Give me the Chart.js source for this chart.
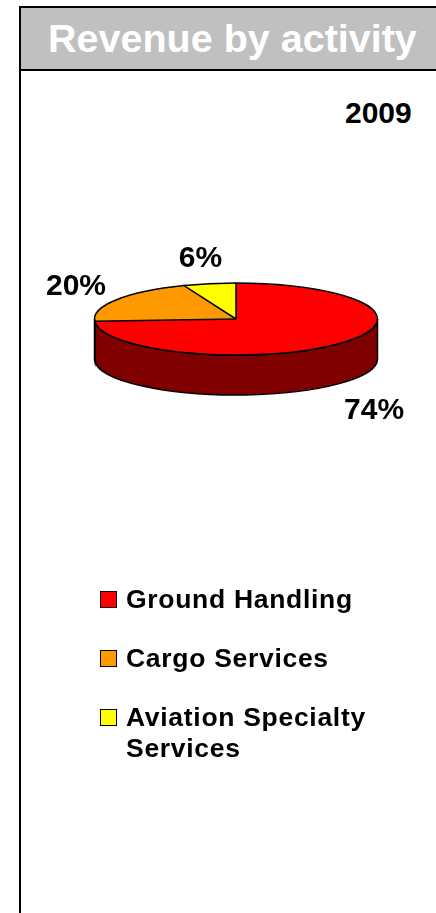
<!DOCTYPE html>
<html>
<head>
<meta charset="utf-8">
<script src="https://cdn.jsdelivr.net/npm/chart.js@4.4.1/dist/chart.umd.min.js"></script>
<style>
  html, body { margin:0; padding:0; background:#fff; width:436px; height:913px; overflow:hidden; font-family:"Liberation Sans", Arial, sans-serif; }
  #frame { position:absolute; left:19px; top:6px; width:440px; height:920px; border:2px solid #000; box-sizing:border-box; }
  #header { position:absolute; left:0; top:0; width:100%; height:61px; background:#C0C0C0; border-bottom:2px solid #000; }
  #title { position:absolute; left:27px; top:8px; color:#fff; font-weight:bold; font-size:39.5px; white-space:nowrap; }
  #year { position:absolute; left:345px; top:96px; font-weight:bold; font-size:30px; }
  #chartwrap { position:absolute; left:0; top:0; width:436px; height:913px; }
  #legend { position:absolute; left:100px; top:584px; }
  .li { display:flex; align-items:flex-start; font-weight:bold; font-size:26.5px; line-height:31px; margin-bottom:28px; letter-spacing:0.7px; }
  .sw { width:15px; height:15px; border:1px solid #000; margin-top:7px; margin-right:9px; flex:none; }
</style>
</head>
<body>
<div id="frame"><div id="header"><div id="title">Revenue by activity</div></div></div>
<div id="year">2009</div>
<div id="chartwrap"><canvas id="c" width="436" height="913"></canvas></div>
<div id="legend"></div>
<script>
const categories = ["Ground Handling", "Cargo Services", "Aviation Specialty Services"];
const legendLines = [["Ground Handling"], ["Cargo Services"], ["Aviation Specialty", "Services"]];
const shares = [74, 20, 6];
const topColors = ["#FF0000", "#FF9900", "#FFFF00"];
const sideColors = ["#800000", "#995C00", "#999900"];

const TILT = 36 / 141.5;
const DEPTH = 40;

const pie3d = {
  id: 'pie3d',
  beforeDatasetsDraw(chart) {
    const ctx = chart.ctx;
    const meta = chart.getDatasetMeta(0);
    meta.data.forEach((arc, i) => {
      const p = arc.getProps(['x','y','startAngle','endAngle','outerRadius']);
      const rx = p.outerRadius, ry = p.outerRadius * TILT;
      const segs = [[Math.max(p.startAngle, 0), Math.min(p.endAngle, Math.PI)],
                    [Math.max(p.startAngle, 2*Math.PI), Math.min(p.endAngle, 3*Math.PI)]];
      segs.forEach(([s, e]) => {
        if (e <= s) return;
        ctx.save();
        ctx.beginPath();
        ctx.ellipse(p.x, p.y, rx, ry, 0, s, e, false);
        ctx.lineTo(p.x + rx*Math.cos(e), p.y + ry*Math.sin(e) + DEPTH);
        ctx.ellipse(p.x, p.y + DEPTH, rx, ry, 0, e, s, true);
        ctx.closePath();
        ctx.fillStyle = sideColors[i];
        ctx.fill();
        ctx.lineWidth = 1.5;
        ctx.strokeStyle = '#000';
        ctx.stroke();
        ctx.restore();
      });
    });
    const a = meta.data[0];
    ctx.save();
    ctx.translate(a.x, a.y);
    ctx.scale(1, TILT);
    ctx.translate(-a.x, -a.y);
  },
  afterDatasetsDraw(chart) {
    const ctx = chart.ctx;
    ctx.restore();
    const meta = chart.getDatasetMeta(0);
    // crisp outline of the top face
    ctx.save();
    ctx.strokeStyle = '#000';
    ctx.lineWidth = 1.5;
    meta.data.forEach((arc) => {
      const p = arc.getProps(['x','y','startAngle','endAngle','outerRadius']);
      const rx = p.outerRadius, ry = p.outerRadius * TILT;
      ctx.beginPath();
      ctx.moveTo(p.x, p.y);
      ctx.lineTo(p.x + rx*Math.cos(p.startAngle), p.y + ry*Math.sin(p.startAngle));
      ctx.ellipse(p.x, p.y, rx, ry, 0, p.startAngle, p.endAngle, false);
      ctx.stroke();
    });
    ctx.restore();

    ctx.save();
    ctx.font = 'bold 30px "Liberation Sans", Arial, sans-serif';
    ctx.fillStyle = '#000';
    ctx.textAlign = 'center';
    ctx.textBaseline = 'middle';
    meta.data.forEach((arc, i) => {
      const p = arc.getProps(['x','y','startAngle','endAngle','outerRadius']);
      const mid = (p.startAngle + p.endAngle) / 2;
      const rx = p.outerRadius, ry = p.outerRadius * TILT;
      const s = Math.sin(mid);
      const x = p.x + (rx + 48) * Math.cos(mid);
      const y = p.y + (ry + 25) * s + (s > 0 ? DEPTH + 10 : 0);
      ctx.fillText(shares[i] + '%', x, y);
    });
    ctx.restore();
  }
};

new Chart(document.getElementById('c'), {
  type: 'pie',
  data: {
    labels: categories,
    datasets: [{
      data: shares,
      backgroundColor: topColors,
      borderColor: '#000',
      borderWidth: 0,
      borderAlign: 'inner'
    }]
  },
  options: {
    responsive: false,
    animation: false,
    devicePixelRatio: 1,
    layout: { padding: { left: 94.5, right: 58.5, top: 177.5, bottom: 452.5 } },
    plugins: { legend: { display: false }, tooltip: { enabled: false }, title: { display: false } }
  },
  plugins: [pie3d]
});

const lg = document.getElementById('legend');
categories.forEach((c, i) => {
  const d = document.createElement('div');
  d.className = 'li';
  d.innerHTML = '<div class="sw" style="background:' + topColors[i] + '"></div><div>' + legendLines[i].join('<br>') + '</div>';
  lg.appendChild(d);
});
</script>
</body>
</html>
